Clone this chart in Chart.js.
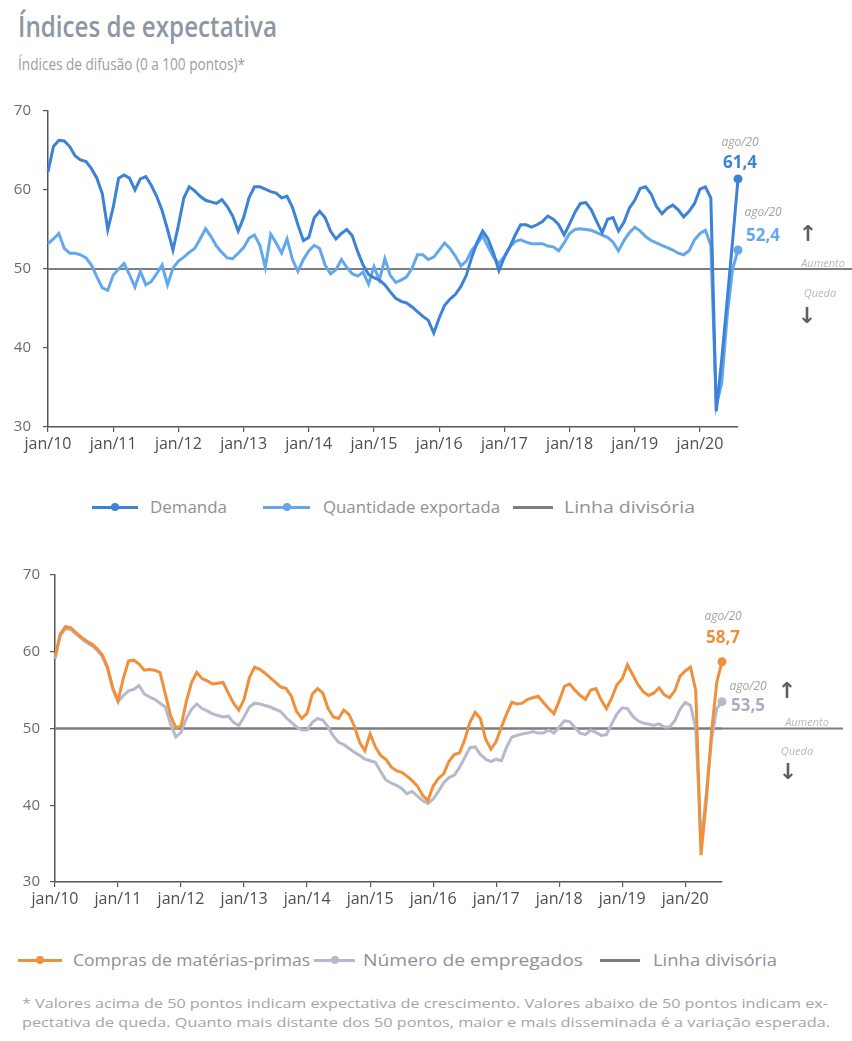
<!DOCTYPE html>
<html lang="pt-BR">
<head>
<meta charset="utf-8">
<title>Índices de expectativa</title>
<script src="https://cdn.jsdelivr.net/npm/chart.js@4.4.1/dist/chart.umd.min.js"></script>
<style>
  html, body { margin: 0; padding: 0; background: #fff; }
  body { width: 852px; height: 1041px; position: relative; overflow: hidden; font-family: 'Open Sans', 'Noto Sans', sans-serif; }
  .txt { position: absolute; display: inline-block; white-space: nowrap; transform-origin: 0 50%; line-height: 1; }
  #titulo { left: 18px; top: 12px; font-size: 28px; font-weight: 600; color: #8c97a3; }
  #subtitulo { left: 18px; top: 56px; font-size: 16px; color: #9d9d9d; }
  canvas { position: absolute; left: 0; }
  #grafico1 { top: 90px; }
  #grafico2 { top: 555px; }
  .marca { position: absolute; height: 3px; }
  .marca i { position: absolute; left: 50%; top: 50%; width: 8px; height: 8px; border-radius: 50%; margin: -4px 0 0 -4px; }
  .legtxt { font-size: 16px; color: #8e9196; }
  .nota { left: 22px; font-size: 13px; color: #a5a5a5; }
</style>
</head>
<body>
<div id="titulo" class="txt">Índices de expectativa</div>
<div id="subtitulo" class="txt">Índices de difusão (0 a 100 pontos)*</div>
<canvas id="grafico1" width="852" height="370"></canvas>
<canvas id="grafico2" width="852" height="370"></canvas>
<div id="nota1" class="txt nota" style="top:997px">* Valores acima de 50 pontos indicam expectativa de crescimento. Valores abaixo de 50 pontos indicam ex-</div>
<div id="nota2" class="txt nota" style="top:1016px">pectativa de queda. Quanto mais distante dos 50 pontos, maior e mais disseminada é a variação esperada.</div>
<script>
// Eixo horizontal mensal: jan/10 a ago/20
const meses = ['jan', 'fev', 'mar', 'abr', 'mai', 'jun', 'jul', 'ago', 'set', 'out', 'nov', 'dez'];
const anos = ['10', '11', '12', '13', '14', '15', '16', '17', '18', '19', '20'];
const rotulos = [];
anos.forEach(a => meses.forEach(m => rotulos.push(m + '/' + a)));
rotulos.length = rotulos.indexOf('ago/20') + 1;

// Gráfico de cima
const demanda = [
  62.3, 65.5, 66.3, 66.2, 65.5, 64.3, 63.8, 63.6, 62.7, 61.5, 59.5, 55.0,
  57.8, 61.5, 61.9, 61.5, 60.0, 61.4, 61.7, 60.6, 59.2, 57.4, 55.0, 52.4,
  55.5, 59.0, 60.4, 59.9, 59.2, 58.7, 58.5, 58.3, 58.8, 57.9, 56.7, 54.8,
  56.5, 59.0, 60.4, 60.4, 60.1, 59.8, 59.6, 59.0, 59.2, 57.8, 55.6, 53.6,
  54.0, 56.5, 57.3, 56.5, 54.8, 53.8, 54.5, 55.0, 54.2, 52.2, 50.5, 49.3,
  48.9, 48.6, 48.0, 47.1, 46.3, 45.9, 45.7, 45.2, 44.6, 44.0, 43.5, 41.9,
  43.8, 45.4, 46.2, 46.8, 47.8, 49.2, 51.5, 53.4, 54.8, 53.8, 52.0, 49.8,
  51.5, 52.8, 54.3, 55.6, 55.6, 55.3, 55.6, 56.0, 56.7, 56.3, 55.6, 54.3,
  55.7, 57.2, 58.3, 58.4, 57.5, 56.0, 54.6, 56.3, 56.5, 54.8, 55.9, 57.7,
  58.7, 60.2, 60.4, 59.5, 57.9, 57.0, 57.7, 58.1, 57.5, 56.6, 57.3, 58.3,
  60.1, 60.4, 59.0, 32.0, 38.5, 46.0, 53.5, 61.4
];
const quantidadeExportada = [
  53.2, 53.8, 54.5, 52.6, 52.0, 52.0, 51.8, 51.4, 50.5, 49.0, 47.6, 47.3,
  49.2, 50.0, 50.7, 49.3, 47.7, 49.7, 48.0, 48.4, 49.4, 50.5, 48.0, 50.1,
  51.0, 51.5, 52.1, 52.6, 53.8, 55.1, 54.1, 52.9, 52.1, 51.4, 51.3, 52.0,
  52.7, 53.9, 54.3, 53.0, 50.2, 54.4, 53.3, 52.0, 53.8, 51.2, 49.7, 51.2,
  52.3, 53.0, 52.6, 50.5, 49.4, 49.9, 51.2, 50.2, 49.4, 49.1, 49.6, 48.1,
  50.3, 48.6, 51.3, 49.2, 48.3, 48.6, 49.0, 50.1, 51.8, 51.8, 51.2, 51.5,
  52.4, 53.3, 52.6, 51.6, 50.4, 51.0, 52.4, 53.2, 54.2, 52.8, 51.5, 50.7,
  51.6, 52.8, 53.5, 53.7, 53.4, 53.2, 53.2, 53.2, 52.9, 52.8, 52.3, 53.3,
  54.5, 55.0, 55.1, 55.0, 54.9, 54.6, 54.3, 54.0, 53.4, 52.3, 53.6, 54.6,
  55.3, 54.8, 54.1, 53.6, 53.3, 53.0, 52.7, 52.4, 52.0, 51.8, 52.3, 53.7,
  54.5, 54.9, 53.0, 32.7, 35.5, 44.0, 50.0, 52.4
];

// Gráfico de baixo
const comprasMateriasPrimas = [
  59.3, 62.3, 63.3, 63.1, 62.5, 61.9, 61.4, 61.0, 60.4, 59.6, 58.0, 55.3,
  53.6, 56.5, 58.8, 58.9, 58.4, 57.6, 57.7, 57.6, 57.3, 54.5, 51.7, 50.1,
  50.3, 53.5, 56.0, 57.3, 56.5, 56.2, 55.8, 55.9, 56.0, 54.6, 53.3, 52.4,
  53.8, 56.6, 58.0, 57.7, 57.2, 56.6, 56.0, 55.4, 55.2, 54.2, 52.2, 51.3,
  52.0, 54.5, 55.2, 54.6, 52.6, 51.5, 51.3, 52.4, 51.8, 50.3, 48.2, 47.1,
  49.3, 47.6, 46.5, 46.0, 45.0, 44.5, 44.3, 43.8, 43.2, 42.5, 41.3, 40.6,
  42.5, 43.5, 44.1, 45.7, 46.6, 46.8, 48.5, 50.8, 52.1, 51.3, 48.6, 47.3,
  48.3, 50.2, 51.9, 53.4, 53.2, 53.3, 53.8, 54.0, 54.2, 53.4, 52.6, 51.9,
  53.6, 55.5, 55.8, 55.0, 54.3, 53.8, 55.0, 55.2, 53.7, 52.6, 54.0, 55.7,
  56.5, 58.3, 57.0, 55.7, 54.8, 54.3, 54.6, 55.3, 54.4, 54.0, 54.9, 56.8,
  57.5, 58.0, 55.0, 33.5, 40.5, 49.5, 56.0, 58.7
];
const numeroEmpregados = [
  59.1, 62.1, 63.0, 62.9, 62.3, 61.7, 61.2, 60.8, 60.2, 59.4, 57.8, 55.1,
  53.5, 54.3, 54.9, 55.1, 55.6, 54.5, 54.1, 53.8, 53.3, 52.8, 50.6, 48.9,
  49.5, 51.3, 52.5, 53.2, 52.6, 52.3, 51.9, 51.7, 51.5, 51.6, 50.8, 50.4,
  51.5, 52.8, 53.3, 53.2, 53.0, 52.8, 52.5, 52.2, 51.4, 50.8, 50.2, 49.8,
  49.8, 50.8, 51.3, 51.1, 50.2, 49.0, 48.2, 47.9, 47.4, 46.9, 46.5, 46.0,
  45.8, 45.6, 44.4, 43.3, 42.9, 42.6, 42.2, 41.5, 41.8, 41.2, 40.6, 40.2,
  40.8, 41.8, 42.9, 43.6, 43.9, 44.9, 46.2, 47.5, 47.6, 46.6, 46.0, 45.7,
  46.0, 45.8, 47.6, 48.9, 49.1, 49.3, 49.4, 49.6, 49.4, 49.4, 49.8, 49.4,
  50.2, 51.0, 50.9, 50.1, 49.4, 49.2, 49.8, 49.5, 49.1, 49.2, 50.6, 51.9,
  52.7, 52.6, 51.6, 51.0, 50.7, 50.6, 50.4, 50.6, 50.2, 50.2, 51.0, 52.5,
  53.4, 53.0, 50.0, 35.0, 41.5, 48.5, 52.6, 53.5
];

const linhaDivisoria = 50;
const corDivisoria = '#7e7e7e';
const corEixo = '#555';

Chart.defaults.font.family = "'Open Sans', 'Noto Sans', sans-serif";
Chart.defaults.color = '#666';

// linha divisória segue até a borda direita, junto das setas de aumento/queda
const divisoriaSetas = {
  id: 'divisoriaSetas',
  beforeDatasetsDraw(chart, args, opts) {
    const { ctx, chartArea, scales } = chart;
    const y = scales.y.getPixelForValue(linhaDivisoria);
    ctx.save();
    ctx.strokeStyle = corDivisoria;
    ctx.lineWidth = 1.8;
    ctx.beginPath();
    ctx.moveTo(chartArea.left, y);
    ctx.lineTo(opts.fimLinha, y);
    ctx.stroke();
    ctx.restore();
  },
  afterDatasetsDraw(chart, args, opts) {
    const { ctx, scales } = chart;
    const y = scales.y.getPixelForValue(linhaDivisoria);
    const s = opts.setas;
    ctx.save();
    ctx.textAlign = 'center';
    ctx.textBaseline = 'middle';
    ctx.fillStyle = '#5c6066';
    ctx.font = "bold 22px 'DejaVu Sans'";
    ctx.fillText('↑', s.cima[0], y + s.cima[1]);
    ctx.fillText('↓', s.baixo[0], y + s.baixo[1]);
    ctx.fillStyle = '#b5b9bf';
    ctx.font = "italic 11px 'Open Sans'";
    ctx.fillText('Aumento', s.aumento[0], y + s.aumento[1]);
    ctx.fillText('Queda', s.queda[0], y + s.queda[1]);
    ctx.restore();
  }
};

// rótulo do último mês (ago/20) com o valor da série
const rotulosFinais = {
  id: 'rotulosFinais',
  afterDatasetsDraw(chart) {
    const { ctx } = chart;
    chart.data.datasets.forEach((ds, i) => {
      if (!ds.rotuloFinal) return;
      const pts = chart.getDatasetMeta(i).data;
      const p = pts[pts.length - 1];
      const r = ds.rotuloFinal;
      const valor = ds.data[ds.data.length - 1];
      ctx.save();
      ctx.textAlign = 'center';
      ctx.textBaseline = 'middle';
      ctx.fillStyle = '#a2a2a2';
      ctx.font = "italic 12px 'Open Sans'";
      ctx.fillText(rotulos[rotulos.length - 1], p.x + r.dx, p.y + r.dyMes);
      ctx.fillStyle = r.cor || ds.borderColor;
      ctx.font = "bold 17px 'Open Sans'";
      ctx.fillText(valor.toFixed(1).replace('.', ','), p.x + r.dx, p.y + r.dyValor);
      ctx.restore();
    });
  }
};

function serie(nome, dados, cor, rotuloFinal) {
  const ultimo = dados.length - 1;
  return {
    label: nome,
    data: dados,
    borderColor: cor,
    backgroundColor: cor,
    borderWidth: 3,
    tension: 0,
    clip: false,
    pointRadius: c => (c.dataIndex === ultimo ? 4.5 : 0),
    pointHoverRadius: 0,
    pointBorderWidth: 0,
    rotuloFinal: rotuloFinal
  };
}

function criarGrafico(id, series, cfg) {
  const ctx = document.getElementById(id).getContext('2d');
  return new Chart(ctx, {
    type: 'line',
    data: {
      labels: rotulos,
      datasets: series.concat([{
        label: 'Linha divisória',
        data: [
          { x: rotulos[0], y: linhaDivisoria },
          { x: rotulos[rotulos.length - 1], y: linhaDivisoria }
        ],
        borderColor: corDivisoria,
        backgroundColor: corDivisoria,
        borderWidth: 1.8,
        pointRadius: 0
      }])
    },
    options: {
      responsive: false,
      animation: false,
      events: [],
      layout: { padding: { top: cfg.topo, right: cfg.direita, left: 0, bottom: 0 } },
      scales: {
        x: {
          type: 'category',
          offset: false,
          afterFit: s => { s.height = cfg.alturaX; },
          grid: { drawOnChartArea: false, tickLength: 5, color: corEixo, lineWidth: 1.2 },
          border: { display: true, color: corEixo, width: 1.5 },
          ticks: {
            autoSkip: false,
            maxRotation: 0,
            padding: 3,
            color: '#4f4f4f',
            font: { size: 16 },
            callback: function (v) {
              const l = this.getLabelForValue(v);
              return l.startsWith('jan') ? l : null;
            }
          }
        },
        y: {
          min: 30,
          max: 70,
          afterFit: s => { s.width = cfg.larguraY; },
          grid: { drawOnChartArea: false, tickLength: 5, color: corEixo, lineWidth: 1.2 },
          border: { display: true, color: corEixo, width: 1.5 },
          ticks: { stepSize: 10, padding: cfg.padY, color: '#6b6b6b', font: { size: 15 } }
        }
      },
      plugins: {
        legend: { display: false },
        tooltip: { enabled: false },
        divisoriaSetas: { fimLinha: cfg.fimLinha, setas: cfg.setas }
      }
    },
    plugins: [divisoriaSetas, rotulosFinais]
  });
}

const grafico1 = criarGrafico('grafico1', [
  serie('Demanda', demanda, '#3c82d6', { dx: 2, dyMes: -36, dyValor: -16 }),
  serie('Quantidade exportada', quantidadeExportada, '#64a8ec', { dx: 25, dyMes: -37, dyValor: -14 })
], {
  topo: 20, direita: 114, alturaX: 33, larguraY: 48, padY: 12, fimLinha: 852,
  setas: { cima: [808, -34], aumento: [823, -5], queda: [820, 25], baixo: [807, 48] }
});

const grafico2 = criarGrafico('grafico2', [
  serie('Compras de matérias-primas', comprasMateriasPrimas, '#f0903b', { dx: 1, dyMes: -45, dyValor: -24 }),
  serie('Número de empregados', numeroEmpregados, '#b4b9cb', { dx: 26, dyMes: -15, dyValor: 5, cor: '#a9aebd' })
], {
  topo: 20, direita: 130, alturaX: 43, larguraY: 55, padY: 10, fimLinha: 843,
  setas: { cima: [787, -36], aumento: [807, -6], queda: [797, 23], baixo: [788, 45] }
});

// legendas em HTML, montadas a partir dos datasets de cada gráfico
function ajustarLargura(el, largura) {
  const w = el.getBoundingClientRect().width;
  el.style.transform = 'scaleX(' + (largura / w) + ')';
}

function montarLegenda(grafico, centroY, itens) {
  grafico.data.datasets.forEach((ds, i) => {
    const it = itens[i];
    const m = document.createElement('div');
    m.className = 'marca';
    m.style.left = it.marca[0] + 'px';
    m.style.width = (it.marca[1] - it.marca[0]) + 'px';
    m.style.top = (centroY - 1.5) + 'px';
    m.style.background = ds.borderColor;
    if (ds.pointRadius !== 0) {
      const dot = document.createElement('i');
      dot.style.background = ds.borderColor;
      m.appendChild(dot);
    }
    document.body.appendChild(m);
    const t = document.createElement('div');
    t.className = 'txt legtxt';
    t.textContent = ds.label;
    t.style.left = it.texto[0] + 'px';
    t.style.top = (centroY - 8) + 'px';
    document.body.appendChild(t);
    ajustarLargura(t, it.texto[1] - it.texto[0]);
  });
}

montarLegenda(grafico1, 507, [
  { marca: [92, 138], texto: [150, 227] },
  { marca: [263, 310], texto: [323, 500] },
  { marca: [513, 553], texto: [564, 695] }
]);
montarLegenda(grafico2, 960, [
  { marca: [18, 62], texto: [73, 310] },
  { marca: [314, 355], texto: [363, 583] },
  { marca: [600, 640], texto: [653, 777] }
]);

ajustarLargura(document.getElementById('titulo'), 259);
ajustarLargura(document.getElementById('subtitulo'), 227);
ajustarLargura(document.getElementById('nota1'), 806);
ajustarLargura(document.getElementById('nota2'), 808);
</script>
</body>
</html>
